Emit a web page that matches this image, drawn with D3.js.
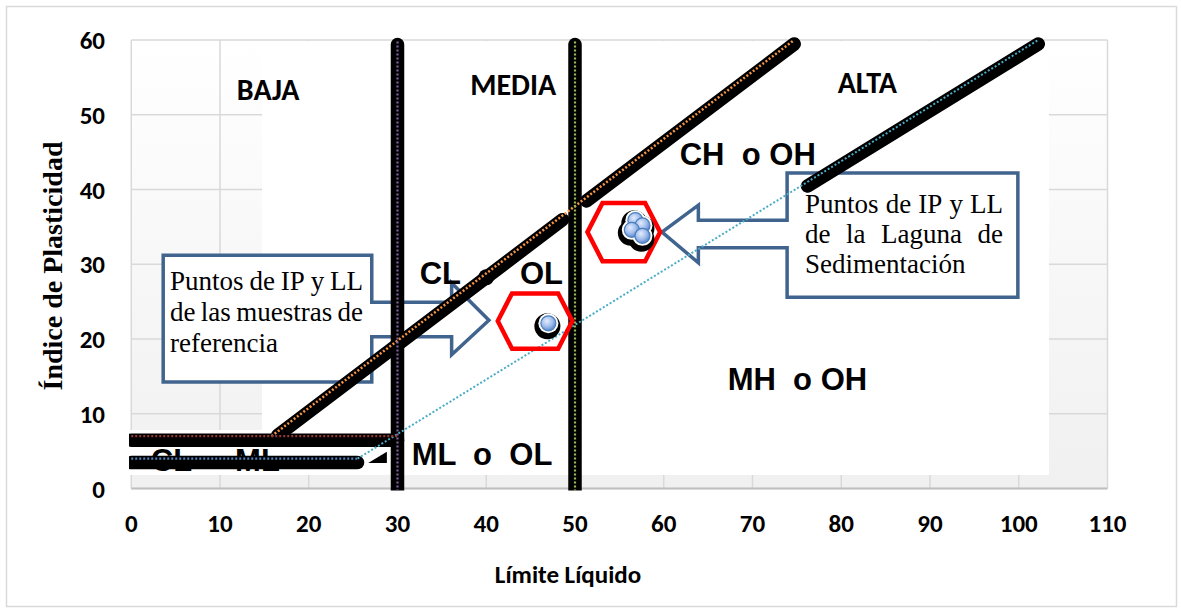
<!DOCTYPE html>
<html><head><meta charset="utf-8">
<script src="https://cdn.jsdelivr.net/npm/d3@7"></script>
<style>
body{margin:0;background:#fff}
text{white-space:pre}
</style>
</head><body>
<svg id="chart" width="1181" height="614"></svg>
<script>
// ---------- data ----------
const xTicks = [0,10,20,30,40,50,60,70,80,90,100,110];
const yTicks = [0,10,20,30,40,50,60];
const xTitle = "Límite Líquido";
const yTitle = "Índice de Plasticidad";

const bandHigh = [[0,7],[30,7]];            // CL-ML upper limit
const bandLow  = [[0,4],[25.5,4]];          // CL-ML lower limit
const uLineThick = [[[16.5,7.65],[48.6,36.5]],[[51.3,39.0],[74.7,60]]];
const uLineTrend = [[15.8,7],[74.7,60]];
const uLineNode  = [[40,28.8]];
const aLineThick = [[76.2,41.0],[102.2,60]];
const aLineTrend = [[25.5,4],[102.2,60]];
const limitLL = [30,50];
const limitTop = 59.4;

const refPoints    = [[47,22.1]];
const lagunaPoints = [[56.8,35.9],[57.6,35.2],[56.4,34.6],[57.6,33.8]];

const zoneHeads = [
  {t:"BAJA", ll:11.9, ip:52.0},
  {t:"MEDIA", ll:38.2, ip:52.6},
  {t:"ALTA", ll:79.6, ip:52.9}
];
const zoneLabels = [
  {t:"CH  o OH", ll:61.8, ip:43.3},
  {t:"CL", ll:32.5, ip:27.4},
  {t:"OL", ll:43.8, ip:27.4},
  {t:"MH  o OH", ll:67.2, ip:13.2},
  {t:"ML  o  OL", ll:31.6, ip:3.1}
];
const hiddenLabels = [
  {t:"CL", ll:2.2, ip:2.3},
  {t:"ML", ll:11.7, ip:2.3}
];

// hexagons: centre, half width, inner half width, half height (data units)
const hexagons = [
  {ll:45.5, ip:22.4, hw:4.2, iw:2.6, hh:3.7},
  {ll:55.5, ip:34.3, hw:4.1, iw:2.4, hh:3.9}
];
// callouts (data units)
const callLeft = {x0:3.6, x1:27.1, yT:31.2, yB:14.25, sT:24.9, sB:20.3, hx:36.1, hT:27.5, hB:17.9, tx:40.3, ty:22.5};
const callRight= {x0:73.9, x1:99.9, yT:42.2, yB:25.6, sT:35.9, sB:32.2, hx:63.9, hT:37.9, hB:30.2, tx:59.8, ty:34.3};
const textLeft  = ["Puntos de IP y LL","de las muestras de","referencia"];
const textRight = ["Puntos de IP y LL","de la Laguna de","Sedimentación"];
const triangle = [[26.7,3.4],[28.8,4.9],[28.8,3.4]];

// ---------- layout ----------
const svg = d3.select("#chart");
const x = d3.scaleLinear().domain([0,110]).range([131.25,1107.5]);
const y = d3.scaleLinear().domain([0,60]).range([488.5,40]);
const line = d3.line().x(d=>x(d[0])).y(d=>y(d[1]));

const defs = svg.append("defs");
const grad = defs.append("linearGradient").attr("id","bg").attr("x1",0).attr("y1",0).attr("x2",0).attr("y2",1);
grad.append("stop").attr("offset","0%").attr("stop-color","#ffffff");
grad.append("stop").attr("offset","100%").attr("stop-color","#f0f0f0");
const rg = defs.append("radialGradient").attr("id","bub").attr("cx","40%").attr("cy","35%").attr("r","65%");
rg.append("stop").attr("offset","0%").attr("stop-color","#e4ecfa");
rg.append("stop").attr("offset","60%").attr("stop-color","#9dbbec");
rg.append("stop").attr("offset","100%").attr("stop-color","#5b87c9");
defs.append("clipPath").attr("id","clip").append("rect")
  .attr("x",129).attr("y",0).attr("width",1052).attr("height",490.5);

// outer border
svg.append("rect").attr("x",6.5).attr("y",6.5).attr("width",1170).attr("height",600)
  .attr("fill","#fff").attr("stroke","#d9d9d9").attr("stroke-width",1.5);

// plot background
svg.append("rect").attr("x",x(0)).attr("y",y(60)).attr("width",x(110)-x(0)).attr("height",y(0)-y(60))
  .attr("fill","url(#bg)");

// gridlines
svg.append("g").selectAll("line").data(xTicks).join("line")
  .attr("x1",d=>x(d)).attr("x2",d=>x(d)).attr("y1",y(60)).attr("y2",y(0))
  .attr("stroke","#d9d9d9").attr("stroke-width",1.5);
svg.append("g").selectAll("line").data(yTicks).join("line")
  .attr("x1",x(0)).attr("x2",x(110)).attr("y1",d=>y(d)).attr("y2",d=>y(d))
  .attr("stroke","#d9d9d9").attr("stroke-width",1.5);
svg.append("line").attr("x1",x(0)).attr("x2",x(110)).attr("y1",y(0)).attr("y2",y(0))
  .attr("stroke","#bfbfbf").attr("stroke-width",2);

// white cover boxes (text boxes in original)
svg.append("rect").attr("x",262).attr("y",y(60)+1).attr("width",1049-262).attr("height",475-y(60)-1).attr("fill","#fff");
svg.append("rect").attr("x",129).attr("y",430).attr("width",262-129+1).attr("height",45).attr("fill","#fff");

// axis tick labels
const tickFont = "Carlito, Calibri, Lato, sans-serif";
svg.append("g").selectAll("text").data(xTicks).join("text")
  .attr("x",d=>x(d)).attr("y",532).attr("text-anchor","middle")
  .attr("font-family",tickFont).attr("font-weight",900).attr("font-size",25).text(d=>d);
svg.append("g").selectAll("text").data(yTicks).join("text")
  .attr("x",105).attr("y",d=>y(d)).attr("dy","0.36em").attr("text-anchor","end")
  .attr("font-family",tickFont).attr("font-weight",900).attr("font-size",25).text(d=>d);
svg.append("text").attr("x",568).attr("y",583).attr("text-anchor","middle")
  .attr("font-family",tickFont).attr("font-weight",900).attr("font-size",25).text(xTitle);
svg.append("text").attr("transform","translate(62,266) rotate(-90)").attr("text-anchor","middle")
  .attr("font-family","'Liberation Serif', 'Times New Roman', serif").attr("font-weight","bold")
  .attr("font-size",28).text(yTitle);

// zone heads & hidden labels
svg.append("g").selectAll("text").data(zoneHeads).join("text")
  .attr("x",d=>x(d.ll)).attr("y",d=>y(d.ip))
  .attr("font-family",tickFont).attr("font-weight",900).attr("font-size",30).text(d=>d.t);
const sansB = "'Liberation Sans', Arial, sans-serif";
svg.append("g").selectAll("text").data(hiddenLabels).join("text")
  .attr("x",d=>x(d.ll)).attr("y",d=>y(d.ip))
  .attr("font-family",sansB).attr("font-weight","bold").attr("font-size",31).text(d=>d.t);

// callout shapes
function calloutPath(c, dir){
  const X0=x(c.x0),X1=x(c.x1),YT=y(c.yT),YB=y(c.yB),ST=y(c.sT),SB=y(c.sB),HX=x(c.hx),HT=y(c.hT),HB=y(c.hB),TX=x(c.tx),TY=y(c.ty);
  if(dir>0){
    return `M${X0},${YT}L${X1},${YT}L${X1},${ST}L${HX},${ST}L${HX},${HT}L${TX},${TY}L${HX},${HB}L${HX},${SB}L${X1},${SB}L${X1},${YB}L${X0},${YB}Z`;
  } else {
    return `M${X1},${YT}L${X0},${YT}L${X0},${ST}L${HX},${ST}L${HX},${HT}L${TX},${TY}L${HX},${HB}L${HX},${SB}L${X0},${SB}L${X0},${YB}L${X1},${YB}Z`;
  }
}
[callLeft,callRight].forEach(c=>{
  svg.append("rect").attr("x",x(c.x0)).attr("y",y(c.yT)).attr("width",x(c.x1)-x(c.x0)).attr("height",y(c.yB)-y(c.yT)).attr("fill","#fff");
});
svg.append("path").attr("d",calloutPath(callLeft,1)).attr("fill","none").attr("stroke","#41648f").attr("stroke-width",3.5).attr("stroke-linejoin","miter");
svg.append("path").attr("d",calloutPath(callRight,-1)).attr("fill","none").attr("stroke","#41648f").attr("stroke-width",3.5).attr("stroke-linejoin","miter");

// thick black series lines
const lines = svg.append("g").attr("clip-path","url(#clip)");
const thick = lines.append("g").attr("transform","translate(0,4)")
  .attr("fill","none").attr("stroke","#000").attr("stroke-width",13.5).attr("stroke-linecap","round");
thick.append("path").attr("d",line(bandHigh));
thick.append("path").attr("d",line(bandLow));
uLineThick.forEach(s=>thick.append("path").attr("d",line(s)));
thick.append("path").attr("d",line(aLineThick));
thick.selectAll("circle").data(uLineNode).join("circle")
  .attr("cx",d=>x(d[0])).attr("cy",d=>y(d[1])).attr("r",8).attr("fill","#000").attr("stroke","none");
limitLL.forEach(v=>{
  lines.append("path").attr("d",line([[v,limitTop],[v,-2]]))
    .attr("stroke","#000").attr("stroke-width",13.5).attr("stroke-linecap","round").attr("fill","none");
});

// dotted overlays
function dotted(data,color,w,dash){
  lines.append("path").attr("d",line(data)).attr("fill","none").attr("stroke",color)
    .attr("stroke-width",w).attr("stroke-dasharray",dash);
}
dotted(uLineTrend,"#f79646",2.5,"2,2");
dotted(aLineTrend,"#4bacc6",2,"2,2");
dotted(bandHigh,"#953735",2.2,"2,2");
dotted(bandLow,"#4f81bd",2.2,"2,2");
dotted([[30,limitTop+0.4],[30,-2]],"#8064a2",2.2,"2,2");
dotted([[50,limitTop+0.4],[50,-2]],"#9bbb59",2.2,"2,2");

// small black triangle
svg.append("path").attr("d",line(triangle)+"Z").attr("fill","#000");

// zone labels
svg.append("g").selectAll("text").data(zoneLabels).join("text")
  .attr("x",d=>x(d.ll)).attr("y",d=>y(d.ip))
  .attr("font-family",sansB).attr("font-weight","bold").attr("font-size",31).text(d=>d.t);

// hexagons
svg.append("g").selectAll("path").data(hexagons).join("path")
  .attr("d",h=>{
    const pts=[[h.ll-h.hw,h.ip],[h.ll-h.iw,h.ip+h.hh],[h.ll+h.iw,h.ip+h.hh],[h.ll+h.hw,h.ip],[h.ll+h.iw,h.ip-h.hh],[h.ll-h.iw,h.ip-h.hh]];
    return line(pts)+"Z";
  }).attr("fill","none").attr("stroke","#ff0000").attr("stroke-width",4.5);

// points
const allPts = refPoints.concat(lagunaPoints);
const pg = svg.append("g");
pg.selectAll("circle.sh").data(allPts).join("circle").attr("class","sh")
  .attr("cx",d=>x(d[0])-1).attr("cy",d=>y(d[1])+3).attr("r",13).attr("fill","#000");
pg.selectAll("circle.wh").data(allPts).join("circle").attr("class","wh")
  .attr("cx",d=>x(d[0])).attr("cy",d=>y(d[1])).attr("r",10).attr("fill","#fff");
pg.selectAll("circle.bb").data(allPts).join("circle").attr("class","bb")
  .attr("cx",d=>x(d[0])).attr("cy",d=>y(d[1])).attr("r",7.5)
  .attr("fill","url(#bub)").attr("stroke","#4a7ebb").attr("stroke-width",1.2);

// callout text (justified)
const serif = "'Liberation Serif', 'Times New Roman', serif";
function block(lines_, left, right, base0, step, fs){
  lines_.forEach((ln,i)=>{
    const words = ln.split(" ");
    const last = i===lines_.length-1;
    const ts = words.map(w=>svg.append("text").attr("font-family",serif).attr("font-size",fs)
       .attr("y",base0+i*step).text(w));
    const ws = ts.map(t=>t.node().getComputedTextLength());
    const total = d3.sum(ws);
    const gap = (last||words.length<2) ? fs*0.25 : (right-left-total)/(words.length-1);
    let cx = left;
    ts.forEach((t,k)=>{ t.attr("x",cx); cx += ws[k]+gap; });
  });
}
block(textLeft, 170, 363, 290, 31, 27);
block(textRight, 805, 1003, 213, 30, 27);
</script>
</body></html>
